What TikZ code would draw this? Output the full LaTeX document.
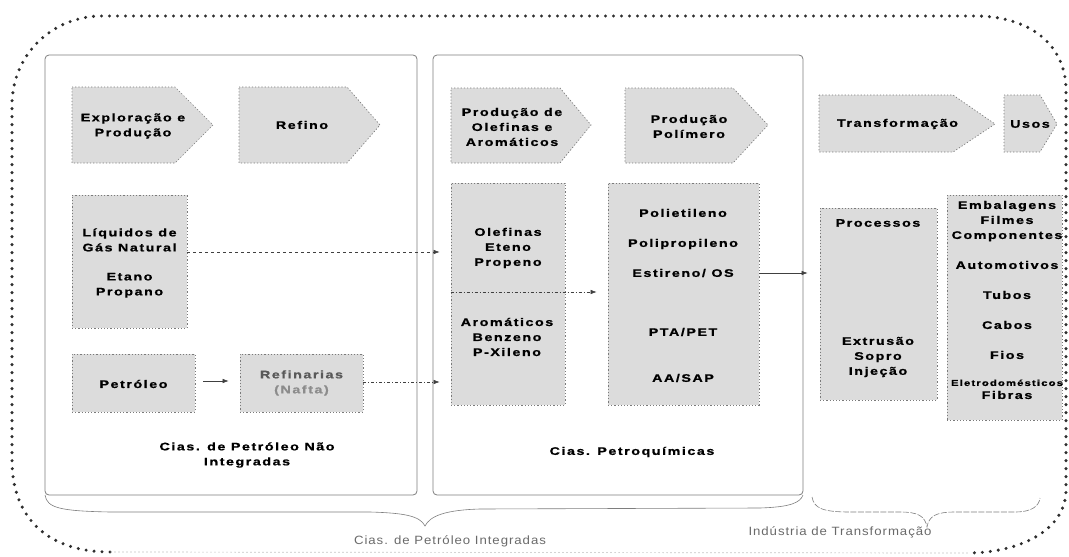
\documentclass[tikz,border=0pt]{standalone}
\usepackage{fontspec}
\newfontfamily\lblf[FakeStretch=1.3,LetterSpace=14,BoldFeatures={FakeBold=0.8}]{Liberation Sans}
\newfontfamily\capf[FakeStretch=1.1,LetterSpace=8]{Liberation Sans}
\usetikzlibrary{arrows.meta}
\definecolor{boxfill}{HTML}{DCDCDC}
\definecolor{boxline}{HTML}{7A7A7A}
\definecolor{frameline}{HTML}{7E7E7E}
\definecolor{outerdot}{HTML}{2E2E2E}
\definecolor{captext}{HTML}{6A6A6A}
\newcommand\lbl{\lblf\bfseries\fontsize{11}{15}\selectfont}
\begin{document}
\begin{tikzpicture}[x=1pt,y=-1pt,
  lbl/.style={font=\lbl, align=center, text=black, inner sep=0pt},
  graybox/.style={draw=boxline, fill=boxfill, line width=0.7pt, dash pattern=on 1.2pt off 2pt, inner sep=0pt},
  pent/.style={draw=boxline, fill=boxfill, line width=0.7pt, dash pattern=on 1.2pt off 2pt},
  frame/.style={draw=frameline, line width=0.8pt, rounded corners=4pt},
  capt/.style={font=\capf\fontsize{12}{14}\selectfont, text=captext, inner sep=0pt},
  brace/.style={draw=frameline, line width=0.6pt},
  arr/.style={-{Latex[length=6pt,width=4.5pt]}, line width=0.6pt, draw=black!75},
  dashedarr/.style={arr, dash pattern=on 3pt off 3pt},
  dotdasharr/.style={arr, dash pattern=on 3pt off 2pt on 1pt off 2pt},
  outer/.style={outerdot, line width=3.4pt, line cap=round, dash pattern=on 0pt off 8pt},
]
\useasboundingbox (0,0) rectangle (1069,557);
% outer dotted boundary
\draw[outer]
  (110,552) .. controls (50,552) and (12,520) .. (12,460)
  -- (12,105) .. controls (12,55) and (52,16) .. (102,16)
  -- (975,16) .. controls (1030,16) and (1066,45) .. (1066,90)
  -- (1066,490) .. controls (1066,530) and (1020,553) .. (967,553);
\draw[black!35, line width=1.2pt, line cap=round, dash pattern=on 0pt off 4pt] (967,553) -- (110,552);

% container frames
\draw[frame] (45,55) -- (417,55) -- (417,495) -- (45,495) -- cycle;
\draw[frame] (433,55) -- (803,55) -- (803,495) -- (433,495) -- cycle;

% pentagons
\draw[pent] (72,87) -- (175,87) -- (213,125) -- (175,163) -- (72,163) -- cycle;
\node[lbl] (expl) at (133,126) {Exploração e\\Produção};
\draw[pent] (239,87) -- (347,87) -- (380,125) -- (347,163) -- (239,163) -- cycle;
\node[lbl] (refino) at (302,125) {Refino};
\draw[pent] (451,88) -- (560,88) -- (591,125) -- (560,163) -- (451,163) -- cycle;
\node[lbl] (prodole) at (512,127) {Produção de\\Olefinas e\\Aromáticos};
\draw[pent] (625,88) -- (733,88) -- (768,125) -- (733,163) -- (625,163) -- cycle;
\node[lbl] (prodpol) at (689,126.5) {Produção\\Polímero};
\draw[pent] (819,95) -- (953,95) -- (995,124) -- (953,152) -- (819,152) -- cycle;
\node[lbl] (transf) at (897.5,124) {Transformação};
\draw[pent] (1004,95) -- (1040,95) -- (1057,124) -- (1040,152) -- (1004,152) -- cycle;
\node[lbl] (usos) at (1030,124) {Usos};

% gray boxes
\node[graybox, minimum width=115pt, minimum height=133pt] (liq) at (129.5,261.5) {};
\node[lbl] (liqt) at (129.5,263) {Líquidos de\\Gás Natural\\[14pt]Etano\\Propano};
\node[graybox, minimum width=123pt, minimum height=58pt] (pet) at (133.5,383) {};
\node[lbl] (pett) at (133.5,384) {Petróleo};
\node[graybox, minimum width=123pt, minimum height=58pt] (ref) at (301.5,383) {};
\node[lbl] (reft) at (301.5,383) {\textcolor{black!65}{Refinarias}\\\textcolor{black!45}{(Nafta)}};
\node[graybox, minimum width=114pt, minimum height=222pt] (ole) at (508,294) {};
\node[lbl] (olet) at (508,248) {Olefinas\\Eteno\\Propeno};
\node[lbl] (aromt) at (507,337) {Aromáticos\\Benzeno\\P-Xileno};
\node[graybox, minimum width=151pt, minimum height=222pt] (pol) at (683.5,294) {};
\node[lbl] (polt) at (683,295.5) {Polietileno\\[15pt]Polipropileno\\[15pt]Estireno/ OS\\[44pt]PTA/PET\\[31pt]AA/SAP};
\node[graybox, minimum width=117pt, minimum height=192pt] (proc) at (878.5,304) {};
\node[lbl] (proct) at (878,223) {Processos};
\node[lbl] (extt) at (878,357) {Extrusão\\Sopro\\Injeção};
\node[graybox, minimum width=115pt, minimum height=225pt] (usb) at (1004.5,307.5) {};
\node[lbl] (usbt) at (1007,300) {Embalagens\\Filmes\\Componentes\\[15pt]Automotivos\\[15pt]Tubos\\[15pt]Cabos\\[15pt]Fios\\[12pt]{\fontsize{8.6}{15}\selectfont Eletrodomésticos}\\[-2pt]Fibras};

% frame captions
\node[lbl] (cnint) at (247,455) {Cias. de Petróleo Não\\Integradas};
\node[lbl] (cpetro) at (632,452) {Cias. Petroquímicas};

% connectors
\coordinate (divL) at (ole.west |- 0,292);
\draw[dashedarr, shorten >=11pt] (liq.east |- 0,252) -- (ole.west |- 0,252);
\draw[dotdasharr, shorten >=11pt] (ref.east |- 0,382) -- (ole.west |- 0,382);
\draw[arr, shorten <=8pt, shorten >=11pt] (pet.east |- 0,381) -- (ref.west |- 0,381);
\draw[dotdasharr, shorten >=11pt] (divL) -- (pol.west |- 0,292);
\draw[arr, shorten >=12pt] (pol.east |- 0,273) -- (proc.west |- 0,273);

% braces
\draw[brace] (45,495) .. controls (47,508) and (60,511) .. (110,512) -- (370,512)
  .. controls (405,513) and (420,516) .. (425,526)
  .. controls (430,516) and (445,510) .. (480,509) -- (760,508)
  .. controls (790,507) and (800,503) .. (803,495);
\draw[brace, dash pattern=on 6pt off 1.5pt] (812,497) .. controls (814,508) and (822,512) .. (850,512) -- (900,512)
  .. controls (918,512) and (925,516) .. (927,527)
  .. controls (929,516) and (936,512) .. (955,512) -- (1015,512)
  .. controls (1032,512) and (1039,506) .. (1040,498);
\node[capt] (cint) at (450,541) {Cias. de Petróleo Integradas};
\node[capt] (indt) at (840,532) {Indústria de Transformação};
\end{tikzpicture}
\end{document}
